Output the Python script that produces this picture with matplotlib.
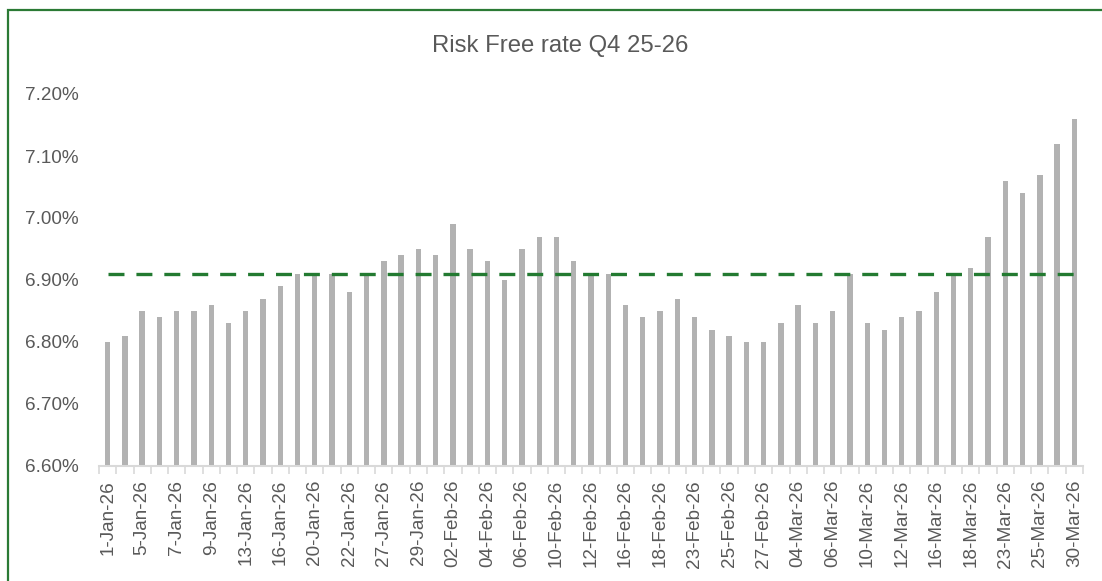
import matplotlib
matplotlib.use("Agg")
import matplotlib.pyplot as plt
from matplotlib.patches import Rectangle
from matplotlib.ticker import FixedLocator, FuncFormatter

plt.rcParams['font.family'] = ['Liberation Sans', 'DejaVu Sans']
plt.rcParams['lines.scale_dashes'] = False

title = "Risk Free rate Q4 25-26"

dates = [
    "1-Jan-26", "2-Jan-26", "5-Jan-26", "6-Jan-26", "7-Jan-26", "8-Jan-26", "9-Jan-26",
    "12-Jan-26", "13-Jan-26", "14-Jan-26", "16-Jan-26", "19-Jan-26", "20-Jan-26",
    "21-Jan-26", "22-Jan-26", "23-Jan-26", "27-Jan-26", "28-Jan-26", "29-Jan-26", "30-Jan-26",
    "02-Feb-26", "03-Feb-26", "04-Feb-26", "05-Feb-26", "06-Feb-26", "09-Feb-26",
    "10-Feb-26", "11-Feb-26", "12-Feb-26", "13-Feb-26", "16-Feb-26", "17-Feb-26",
    "18-Feb-26", "20-Feb-26", "23-Feb-26", "24-Feb-26", "25-Feb-26", "26-Feb-26", "27-Feb-26",
    "02-Mar-26", "04-Mar-26", "05-Mar-26", "06-Mar-26", "09-Mar-26", "10-Mar-26",
    "11-Mar-26", "12-Mar-26", "13-Mar-26", "16-Mar-26", "17-Mar-26", "18-Mar-26",
    "20-Mar-26", "23-Mar-26", "24-Mar-26", "25-Mar-26", "27-Mar-26", "30-Mar-26",
]

rates_jan = [6.80, 6.81, 6.85, 6.84, 6.85, 6.85, 6.86, 6.83, 6.85, 6.87,
             6.89, 6.91, 6.91, 6.91, 6.88, 6.91, 6.93, 6.94, 6.95, 6.94]
rates_feb = [6.99, 6.95, 6.93, 6.90, 6.95, 6.97, 6.97, 6.93, 6.91, 6.91,
             6.86, 6.84, 6.85, 6.87, 6.84, 6.82, 6.81, 6.80, 6.80]
rates_mar = [6.83, 6.86, 6.83, 6.85, 6.91, 6.83, 6.82, 6.84, 6.85, 6.88,
             6.91, 6.92, 6.97, 7.06, 7.04, 7.07, 7.12, 7.16]
rates = rates_jan + rates_feb + rates_mar

reference_rate = 6.91
y_ticks = [6.60, 6.70, 6.80, 6.90, 7.00, 7.10, 7.20]

W, H = 1102, 581
fig = plt.figure(figsize=(W / 100, H / 100), dpi=100)
fig.patch.set_facecolor("white")

ax = fig.add_axes([99 / W, 1 - 466 / H, (1083 - 99) / W, (466 - 94) / H])

x = list(range(len(dates)))
ax.bar(x, rates, width=0.31, color="#B2B2B2", zorder=2)
ax.plot(x, [reference_rate] * len(x), color="#237A31", lw=2.4,
        dashes=(11.5, 8.6), solid_capstyle="butt", dash_capstyle="butt", zorder=3)

ax.set_xlim(-0.5, len(dates) - 0.5)
ax.set_ylim(y_ticks[0], y_ticks[-1])

# y axis: percent labels, no ticks or spine
ax.yaxis.set_major_locator(FixedLocator(y_ticks))
ax.yaxis.set_major_formatter(FuncFormatter(lambda v, p: f"{v:.2f}%"))
ax.tick_params(axis="y", length=0, pad=14.5, labelsize=13.6, labelcolor="#595959")

# x axis: labels on every other category, tick marks at category boundaries
ax.set_xticks(x[::2])
ax.set_xticklabels(dates[::2], rotation=90)
ax.set_xticks([i - 0.5 for i in range(len(dates) + 1)], minor=True)
ax.tick_params(axis="x", which="major", length=0, pad=10, labelsize=13.6,
               labelcolor="#595959")
ax.tick_params(axis="x", which="minor", length=6, width=1.2, color="#D9D9D9")

for side in ("left", "right", "top"):
    ax.spines[side].set_visible(False)
ax.spines["bottom"].set_color("#D9D9D9")
ax.spines["bottom"].set_linewidth(1.5)

fig.text(560 / W, 1 - 52 / H, title, ha="center", va="baseline",
         fontsize=17.2, color="#595959")

# chart frame
fig.patches.append(Rectangle((8 / W, -0.1), 1.2, 1 - 10 / H + 0.1,
                             transform=fig.transFigure, fill=False,
                             edgecolor="#2B7A35", linewidth=1.6))

fig.savefig("out.png", dpi=100)
